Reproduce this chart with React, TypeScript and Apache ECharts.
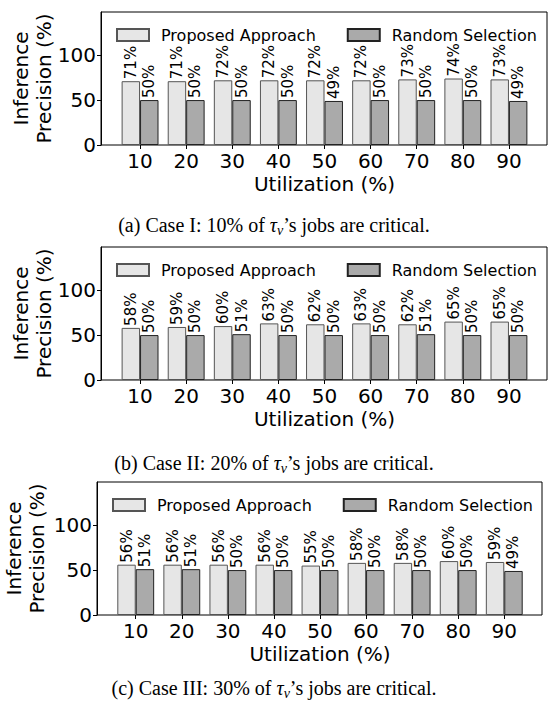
import React, { useEffect, useRef } from 'react';
import * as echarts from 'echarts';

const categories = ['10', '20', '30', '40', '50', '60', '70', '80', '90'];
const seriesNames = ['Proposed Approach', 'Random Selection'];
const proposedA = [71, 71, 72, 72, 72, 72, 73, 74, 73];
const randomA = [50, 50, 50, 50, 49, 50, 50, 50, 49];
const proposedB = [58, 59, 60, 63, 62, 63, 62, 65, 65];
const randomB = [50, 50, 51, 50, 50, 50, 51, 50, 50];
const proposedC = [56, 56, 56, 56, 55, 58, 58, 60, 59];
const randomC = [51, 51, 50, 50, 50, 50, 50, 50, 49];
const yTicks = [0, 50, 100];
const yMax = 148;
const captionLetters = ['(a)', '(b)', '(c)'];
const caseNames = ['Case I', 'Case II', 'Case III'];
const criticalShares = ['10%', '20%', '30%'];

const SANS = 'DejaVu Sans';
const SERIF = 'Liberation Serif';

const panels = [
  { top: 12, height: 133, frameLeft: 101, frameWidth: 446, barLeft: 117, barWidth: 415, titleX: 32, legendLeft: 111, captionY: 225, proposed: proposedA, random: randomA },
  { top: 247, height: 133, frameLeft: 101, frameWidth: 446, barLeft: 117, barWidth: 415, titleX: 32, legendLeft: 111, captionY: 463, proposed: proposedB, random: randomB },
  { top: 482, height: 133, frameLeft: 97, frameWidth: 445, barLeft: 112.7, barWidth: 414.6, titleX: 25, legendLeft: 107, captionY: 688, proposed: proposedC, random: randomC },
];

const propStyle = { color: '#e6e6e6', borderColor: '#555555', borderWidth: 1 };
const randStyle = { color: '#aaaaaa', borderColor: '#222222', borderWidth: 1 };

export default function App() {
  const ref = useRef<HTMLDivElement>(null);
  useEffect(() => {
    document.body.style.margin = '0';
    if (!ref.current) return;
    const chart = echarts.init(ref.current, undefined, { renderer: 'svg' });
    const grid: any[] = [];
    const xAxis: any[] = [];
    const yAxis: any[] = [];
    const series: any[] = [];
    const legend: any[] = [];
    const graphic: any[] = [];
    panels.forEach((p, i) => {
      const fi = 2 * i;
      const bi = 2 * i + 1;
      grid.push({ left: p.frameLeft, width: p.frameWidth, top: p.top, height: p.height, show: true, borderColor: '#000', borderWidth: 1, backgroundColor: 'transparent' });
      grid.push({ left: p.barLeft, width: p.barWidth, top: p.top, height: p.height });
      xAxis.push({ gridIndex: fi, type: 'value', min: 0, max: 1, show: false });
      xAxis.push({
        gridIndex: bi, type: 'category', data: categories,
        axisLine: { show: false },
        axisTick: { show: true, alignWithLabel: true, length: 4, lineStyle: { color: '#000' } },
        axisLabel: { fontSize: 20, color: '#000', margin: 6, fontFamily: SANS },
        name: 'Utilization (%)', nameLocation: 'middle', nameGap: 29,
        nameTextStyle: { fontSize: 20, color: '#000', fontFamily: SANS },
      });
      yAxis.push({
        gridIndex: fi, type: 'value', min: 0, max: yMax,
        axisLine: { show: true, lineStyle: { color: '#000' } },
        axisTick: { show: true, length: 4, customValues: yTicks, lineStyle: { color: '#000' } },
        axisLabel: { customValues: yTicks, fontSize: 20, color: '#000', margin: 5, fontFamily: SANS },
        splitLine: { show: false },
      });
      yAxis.push({ gridIndex: bi, type: 'value', min: 0, max: yMax, show: false, splitLine: { show: false } });
      const label = {
        show: true, position: 'top', rotate: 90, align: 'left', verticalAlign: 'middle', distance: 2,
        formatter: '{c}%', fontSize: 15, color: '#000', fontFamily: SANS,
      };
      series.push({ type: 'bar', name: seriesNames[0], xAxisIndex: bi, yAxisIndex: bi, data: p.proposed, barWidth: '40%', barGap: '0%', itemStyle: propStyle, label });
      series.push({ type: 'bar', name: seriesNames[1], xAxisIndex: bi, yAxisIndex: bi, data: p.random, barWidth: '40%', barGap: '0%', itemStyle: randStyle, label });
      legend.push({
        data: seriesNames, top: p.top + 10, left: p.legendLeft, itemWidth: 32, itemHeight: 12, itemGap: 31,
        icon: 'rect', selectedMode: false,
        textStyle: { fontSize: 16, color: '#000', fontFamily: SANS, padding: [0, 0, 0, 7] },
      });
      graphic.push({
        type: 'text', x: p.titleX, y: p.top + p.height / 2, rotation: Math.PI / 2,
        style: { text: 'Inference\nPrecision (%)', fontSize: 20, lineHeight: 23, fontFamily: SANS, fill: '#000', align: 'center', verticalAlign: 'middle' },
      });
      graphic.push({
        type: 'text', x: 274, y: p.captionY,
        style: {
          text: `${captionLetters[i]} ${caseNames[i]}: ${criticalShares[i]} of {t|τ}{s|v}’s jobs are critical.`,
          fontSize: 20, fontFamily: SERIF, fill: '#000', align: 'center', verticalAlign: 'middle', lineHeight: 24,
          rich: {
            t: { fontSize: 20, fontStyle: 'italic', fontFamily: SERIF, lineHeight: 24 },
            s: { fontSize: 14, fontStyle: 'italic', fontFamily: SERIF, verticalAlign: 'bottom', lineHeight: 14 },
          },
        },
      });
    });
    chart.setOption({
      animation: false,
      backgroundColor: '#fff',
      textStyle: { fontFamily: SANS },
      grid, xAxis, yAxis, series, legend, graphic,
    });
    return () => chart.dispose();
  }, []);
  return <div ref={ref} style={{ width: 548, height: 706 }} />;
}
